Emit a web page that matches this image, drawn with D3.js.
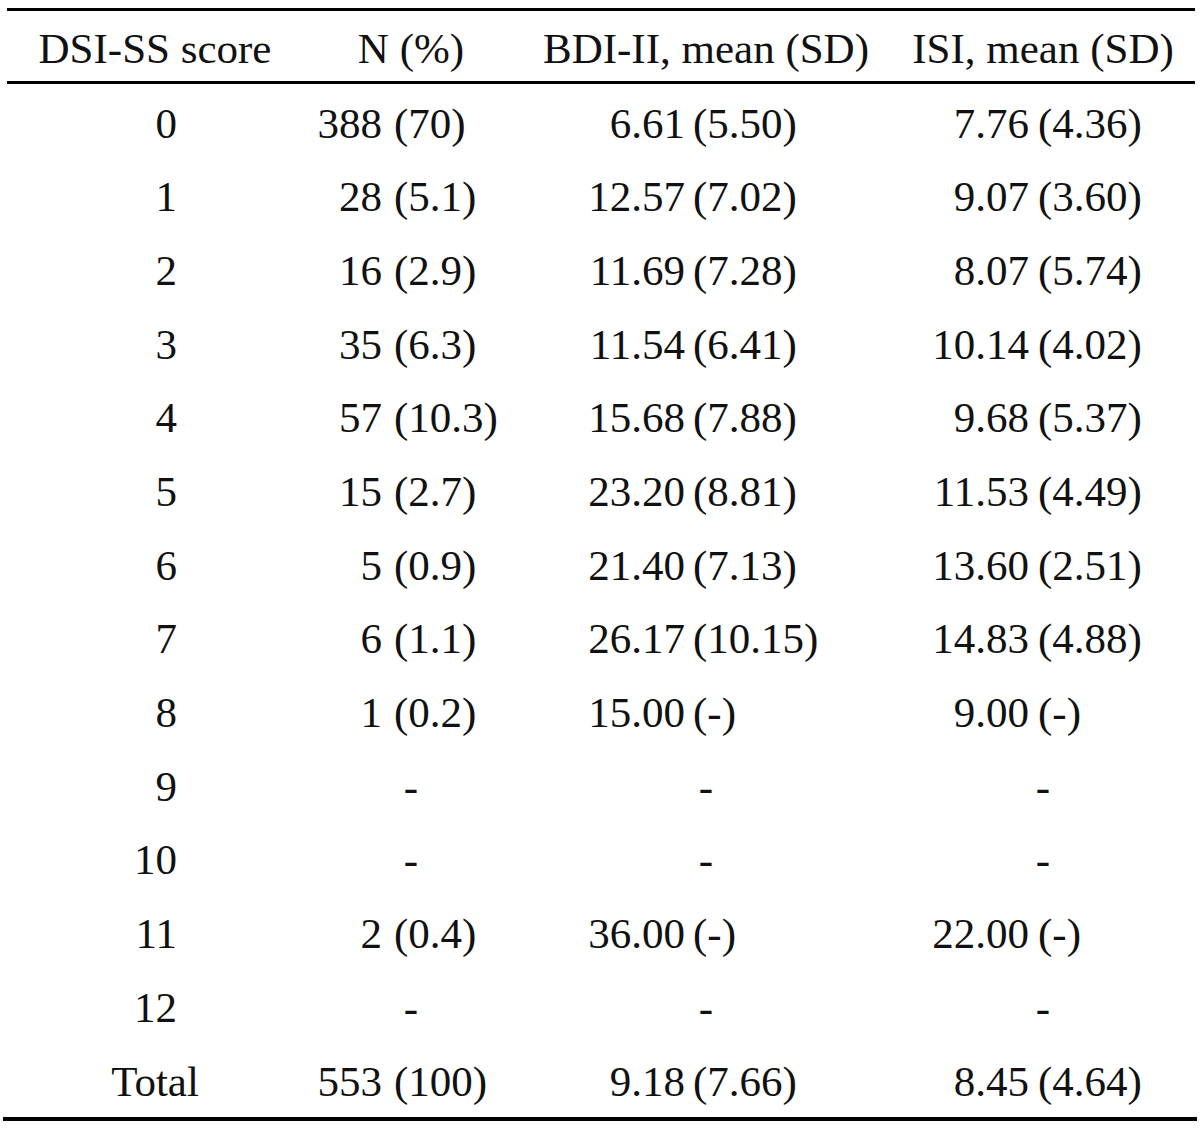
<!DOCTYPE html>
<html><head><meta charset="utf-8">
<script src="https://cdn.jsdelivr.net/npm/d3@7"></script>
<style>html,body{margin:0;padding:0;background:#fff;}svg{display:block;}</style>
</head><body>
<script>
const headers = ["DSI-SS score", "N (%)", "BDI-II, mean (SD)", "ISI, mean (SD)"];
const scores = ["0","1","2","3","4","5","6","7","8","9","10","11","12","Total"];
const nCount = ["388","28","16","35","57","15","5","6","1",null,null,"2",null,"553"];
const nPct   = ["70","5.1","2.9","6.3","10.3","2.7","0.9","1.1","0.2",null,null,"0.4",null,"100"];
const bdiMean = ["6.61","12.57","11.69","11.54","15.68","23.20","21.40","26.17","15.00",null,null,"36.00",null,"9.18"];
const bdiSD   = ["5.50","7.02","7.28","6.41","7.88","8.81","7.13","10.15","-",null,null,"-",null,"7.66"];
const isiMean = ["7.76","9.07","8.07","10.14","9.68","11.53","13.60","14.83","9.00",null,null,"22.00",null,"8.45"];
const isiSD   = ["4.36","3.60","5.74","4.02","5.37","4.49","2.51","4.88","-",null,null,"-",null,"4.64"];

const W = 1200, H = 1129;
const svg = d3.select("body").append("svg").attr("width", W).attr("height", H);
const font = "'Liberation Serif', 'Times New Roman', serif";
const fs = 43;

const y = d3.scalePoint().domain(scores).range([123, 1081]);
const colCenter = d3.scaleOrdinal().domain(headers).range([155, 411, 706, 1043]);
// split positions for "value (sd)" cells: [right edge of value, left edge of parenthesis]
const splits = [null, [382, 394], [685, 693], [1029, 1038]];
const col1Right = 177;

// rules
const rules = [
  {x1: 7, x2: 1195, y: 9.5, w: 3},
  {x1: 7, x2: 1195, y: 82.5, w: 3},
  {x1: 3, x2: 1197, y: 1119, w: 4}
];
svg.selectAll("line.rule").data(rules).enter().append("line")
  .attr("class","rule")
  .attr("x1", d => d.x1).attr("x2", d => d.x2)
  .attr("y1", d => d.y).attr("y2", d => d.y)
  .attr("stroke", "#000").attr("stroke-width", d => d.w);

const txt = (x, yy, s, anchor) => svg.append("text")
  .attr("x", x).attr("y", yy).attr("text-anchor", anchor)
  .attr("font-family", font).attr("font-size", fs).attr("fill", "#111")
  .attr("dominant-baseline", "central")
  .text(s);

// header
headers.forEach(h => txt(colCenter(h), 48, h, "middle"));

// body
const cols = [[nCount, nPct], [bdiMean, bdiSD], [isiMean, isiSD]];
scores.forEach((s, i) => {
  const yy = y(s);
  if (isNaN(+s)) txt(colCenter(headers[0]), yy, s, "middle");
  else txt(col1Right, yy, s, "end");
  cols.forEach(([a, b], c) => {
    const h = headers[c + 1];
    if (a[i] == null) { txt(colCenter(h), yy, "-", "middle"); return; }
    txt(splits[c + 1][0], yy, a[i], "end");
    txt(splits[c + 1][1], yy, "(" + b[i] + ")", "start");
  });
});
</script>
</body></html>
